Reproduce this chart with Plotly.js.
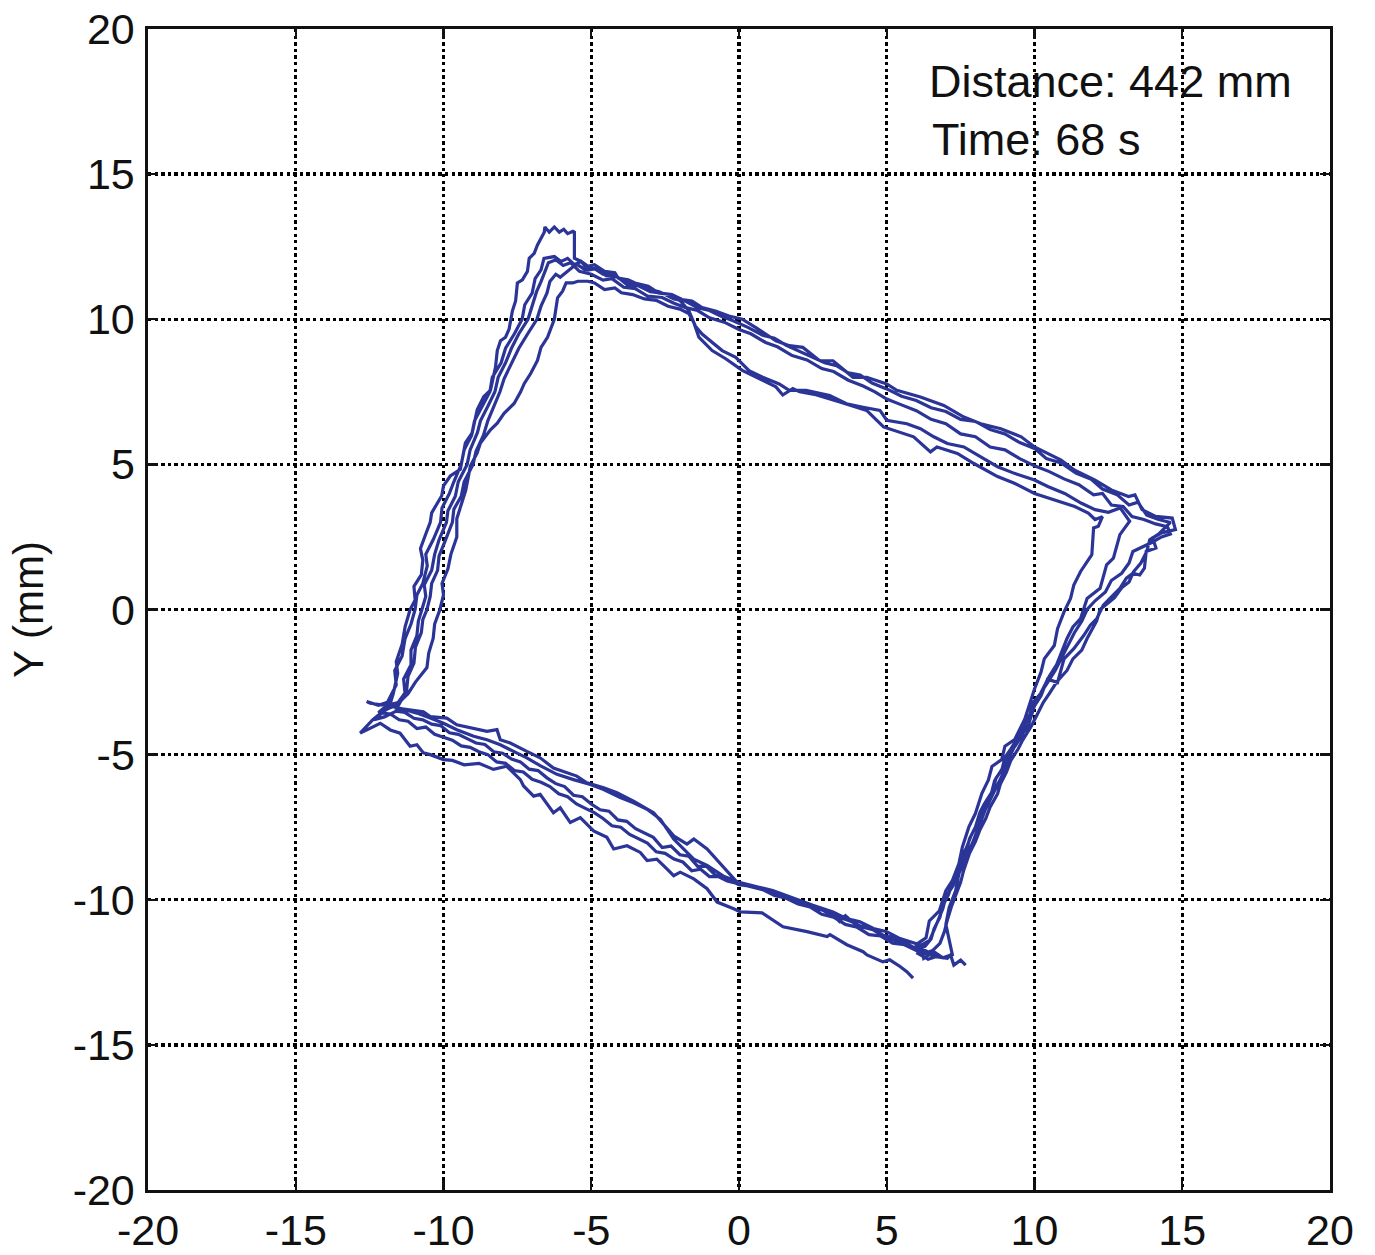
<!DOCTYPE html>
<html>
<head>
<meta charset="utf-8">
<script src="https://cdn.plot.ly/plotly-3.0.1.min.js"></script>
<style>html,body{margin:0;padding:0;background:#fff;}#chart{width:1375px;height:1255px;}</style>
</head>
<body>
<div id="chart"></div>
<script>
// Trajectory, one array of [x, y] (mm) per lap around the square
const loop1 = [
[5.89,-12.7],[5.68,-12.48],[5.45,-12.3],[5.1,-12.07],[4.87,-12.14],[4.33,-11.9],[4.2,-11.79],[3.65,-11.55],[3.08,-11.2],[2.98,-11.27],[2.3,-11.1],[1.49,-10.93],[0.78,-10.45],[0.05,-10.42],[-0.18,-10.31],[-0.74,-10.08],[-1.08,-9.62],[-1.53,-9.28],[-1.99,-9.05],[-2.21,-9.17],[-2.44,-8.94],[-2.78,-8.6],[-3.11,-8.65],[-3.34,-8.37],[-3.79,-8.14],[-4.24,-8.25],[-4.47,-7.85],[-4.92,-7.63],[-5.37,-7.17],[-5.71,-7.34],[-6.05,-6.83],[-6.28,-7.0],[-6.73,-6.37],[-6.95,-6.43],[-7.29,-6.08],[-7.4,-5.86],[-7.86,-5.4],[-8.31,-5.51],[-8.8,-5.3],[-9.3,-5.35],[-9.7,-5.2],[-10.0,-5.17],[-10.45,-5.0],[-10.68,-4.94],[-10.9,-4.66],[-11.13,-4.71],[-11.47,-4.26],[-11.8,-4.15],[-12.14,-3.92],
[-12.5,-4.1],[-12.82,-4.26],[-12.4,-3.8],[-12.1,-3.55],[-11.85,-3.4],
[-11.7,-2.9],[-11.55,-2.2],[-11.6,-1.8],[-11.4,-1.2],[-11.3,-0.6],[-11.13,0.0],[-10.96,0.33],[-11.0,0.8],[-10.75,1.2],[-10.7,1.7],[-10.78,2.1],[-10.6,2.6],[-10.45,3.0],[-10.4,3.33],[-10.06,3.92],[-10.0,4.26],[-9.77,4.6],[-9.43,4.83],[-9.26,5.74],[-9.03,6.08],[-8.86,6.88],[-8.64,7.33],[-8.41,7.56],[-8.24,8.35],[-8.18,8.92],[-8.07,9.26],[-7.9,9.38],[-7.78,9.66],[-7.67,10.28],[-7.56,10.63],[-7.5,11.25],[-7.33,11.36],[-7.16,11.65],[-7.1,12.1],[-6.93,12.27],[-6.82,12.56],[-6.59,13.0],[-6.57,13.18],[-6.42,13.0],[-6.25,13.18],[-6.08,13.0],[-5.93,13.1],[-5.8,12.95],[-5.62,13.03],[-5.57,13.0],[-5.57,12.1],
[-5.34,11.99],[-5.11,11.82],[-4.89,11.88],[-4.55,11.65],[-4.2,11.6],[-4.09,11.42],[-3.75,11.36],[-3.52,11.25],[-3.07,11.14],[-2.73,10.91],[-2.27,10.85],[-1.93,10.68],[-1.59,10.63],[-1.25,10.4],[-0.8,10.28],[-0.34,10.11],[0.11,10.0],[0.57,9.71],[1.25,9.26],[1.7,9.09],[2.16,9.03],[2.73,8.57],[3.18,8.57],[3.86,8.0],[4.32,8.0],[5.0,7.77],[5.34,7.55],[6.14,7.32],[6.93,7.03],[7.61,6.63],[8.18,6.4],[8.86,6.23],[9.55,5.95],[10.0,5.6],[10.45,5.38],[10.9,5.15],[11.36,4.8],[12.05,4.46],[12.6,4.12],[13.18,3.89],[13.4,3.95],[13.64,3.44],[14.1,3.21],[14.66,3.15],[14.77,2.75],[14.3,2.64],
[14.0,2.47],[14.11,2.12],[13.78,2.0],[13.72,1.42],[13.56,1.19],[13.33,1.25],[13.11,1.08],[12.89,0.73],[12.67,0.5],[12.33,0.15],[12.11,-0.31],[11.89,-0.54],[11.67,-0.89],[11.33,-1.35],[11.0,-1.7],[10.78,-2.51],[10.44,-2.4],[10.22,-2.97],[10.0,-3.32],[9.78,-4.02],[9.44,-4.48],[9.22,-4.94],[9.0,-5.52],[8.78,-5.98],[8.56,-6.45],[8.33,-6.91],[8.11,-7.49],[7.89,-8.07],[7.67,-8.53],[7.44,-9.11],[7.33,-9.69],[7.11,-10.27],[7.0,-10.85],[7.11,-11.42],[7.22,-11.89],[6.9,-12.0],[6.59,-11.79],[6.25,-12.02]
];
const loop2 = [
[6.14,-11.56],[5.45,-11.34],[5.0,-11.1],[4.55,-10.99],[4.09,-10.76],[3.64,-10.65],[3.18,-10.42],[2.5,-10.19],[2.05,-10.02],[1.59,-9.85],[1.14,-9.68],[0.68,-9.57],[0.0,-9.4],[-0.5,-9.2],[-1.08,-8.82],[-1.53,-8.6],[-2.21,-7.91],[-2.66,-7.23],[-3.11,-6.88],[-3.57,-6.66],[-4.02,-6.48],[-4.58,-6.2],[-5.03,-6.03],[-5.6,-5.86],[-6.16,-5.68],[-6.73,-5.38],[-7.18,-5.11],[-7.63,-4.89],[-8.08,-4.66],[-8.53,-4.49],[-8.98,-4.37],[-9.55,-4.14],[-10.0,-3.92],[-10.45,-3.74],[-10.9,-3.57],[-11.47,-3.4],[-12.03,-3.29],[-12.48,-3.23],[-12.6,-3.17],[-12.2,-3.3],[-11.9,-3.2],
[-11.6,-2.6],[-11.65,-2.1],[-11.4,-1.6],[-11.3,-1.0],[-11.1,-0.5],[-10.96,0.0],[-10.9,0.5],[-10.7,0.9],[-10.55,1.5],[-10.6,1.9],[-10.35,2.4],[-10.1,3.0],[-10.05,3.5],[-9.8,4.0],[-9.65,4.4],[-9.4,5.0],[-9.3,5.5],[-9.05,6.0],[-8.95,6.5],[-8.7,7.0],[-8.43,7.5],[-8.35,8.0],[-8.05,8.5],[-7.9,9.0],[-7.6,9.5],[-7.34,10.0],[-7.25,10.5],[-7.0,10.9],[-6.9,11.4],[-6.7,11.7],[-6.6,12.1],[-6.25,12.16],[-6.02,11.99],[-5.8,12.1],[-5.57,11.88],[-5.34,11.99],
[-5.1,11.7],[-4.8,11.75],[-4.5,11.5],[-4.1,11.45],[-3.8,11.2],[-3.4,11.15],[-3.0,10.95],[-2.6,10.9],[-2.2,10.7],[-1.8,10.62],[-1.4,10.4],[-1.0,10.3],[-0.6,10.1],[-0.2,9.95],[0.3,9.72],[0.8,9.45],[1.2,9.35],[1.6,9.1],[2.0,8.92],[2.5,8.7],[2.9,8.5],[3.3,8.4],[3.7,8.15],[4.1,8.08],[4.5,7.8],[5.0,7.6],[5.5,7.35],[6.0,7.2],[6.5,6.95],[7.0,6.82],[7.5,6.55],[8.0,6.48],[8.5,6.2],[9.0,6.05],[9.5,5.75],[10.0,5.55],[10.4,5.2],[10.9,5.05],[11.4,4.7],[11.9,4.5],[12.3,4.15],[12.8,3.95],[13.2,3.6],[13.5,3.7],[13.8,3.25],[14.2,3.1],[14.6,3.0],[14.4,2.8],
[14.2,2.6],[13.9,2.4],[13.8,2.0],[13.6,1.6],[13.35,1.3],[13.2,0.95],[12.95,0.75],[12.7,0.4],[12.45,0.2],[12.22,0.0],[12.1,-0.4],[11.78,-1.0],[11.6,-1.4],[11.3,-1.7],[11.1,-2.1],[10.75,-2.5],[10.5,-2.9],[10.3,-3.2],[10.1,-3.6],[9.9,-4.0],[9.6,-4.5],[9.45,-4.8],[9.2,-5.2],[9.05,-5.6],[8.85,-6.0],[8.75,-6.35],[8.5,-6.8],[8.35,-7.2],[8.15,-7.6],[8.0,-8.0],[7.8,-8.4],[7.6,-9.0],[7.5,-9.4],[7.35,-9.8],[7.2,-10.2],[7.05,-10.7],[6.95,-11.1],[6.8,-11.5],[6.55,-11.75],[6.3,-11.85],[6.0,-11.7]
];
const loop3 = [
[5.6,-11.45],[5.2,-11.3],[4.8,-11.2],[4.4,-10.95],[4.0,-10.9],[3.6,-10.55],[3.4,-10.75],[3.2,-10.55],[2.8,-10.35],[2.4,-10.25],[2.0,-10.05],[1.6,-9.95],[1.2,-9.75],[0.8,-9.65],[0.4,-9.5],[-0.07,-9.39],[-1.08,-8.25],[-1.53,-7.91],[-1.76,-8.08],[-2.21,-7.8],[-2.89,-7.0],[-3.57,-6.6],[-4.13,-6.31],[-4.58,-6.14],[-5.15,-5.97],[-5.49,-5.74],[-6.28,-5.46],[-6.73,-5.11],[-7.18,-4.89],[-7.74,-4.6],[-8.08,-4.49],[-8.19,-4.14],[-8.53,-4.2],[-8.98,-4.09],[-9.55,-3.97],[-9.89,-3.74],[-10.45,-3.69],[-10.68,-3.52],[-11.13,-3.46],[-11.58,-3.4],
[-11.3,-2.9],[-11.35,-2.4],[-11.1,-1.9],[-11.1,-1.4],[-10.9,-0.9],[-10.85,-0.4],[-10.73,0.0],[-10.6,0.45],[-10.65,0.85],[-10.4,1.35],[-10.3,1.9],[-10.15,2.4],[-9.9,3.0],[-9.85,3.4],[-9.6,3.9],[-9.5,4.4],[-9.2,5.0],[-9.1,5.5],[-8.85,6.1],[-8.75,6.5],[-8.5,7.0],[-8.26,7.5],[-8.15,8.0],[-7.9,8.5],[-7.7,9.0],[-7.45,9.5],[-7.14,10.0],[-7.0,10.5],[-6.85,10.95],[-6.7,11.3],[-6.55,11.7],[-6.45,11.95],[-6.2,12.05],[-5.95,11.85],[-5.7,11.95],
[-5.4,11.65],[-5.0,11.55],[-4.6,11.35],[-4.3,11.4],[-3.9,11.1],[-3.5,11.05],[-3.1,10.8],[-2.6,10.75],[-2.2,10.55],[-1.8,10.4],[-1.4,10.3],[-1.0,10.05],[-0.5,9.9],[0.0,9.65],[0.4,9.5],[0.9,9.2],[1.3,9.05],[1.8,8.75],[2.3,8.6],[2.8,8.3],[3.2,8.2],[3.7,7.9],[4.2,7.7],[4.6,7.5],[5.0,7.25],[5.5,7.05],[6.0,6.85],[6.5,6.55],[7.0,6.4],[7.5,6.05],[8.0,5.95],[8.5,5.6],[9.0,5.5],[9.5,5.2],[10.0,4.95],[10.5,4.75],[11.0,4.5],[11.5,4.3],[12.0,3.95],[12.3,4.0],[12.6,3.6],[13.0,3.55],[13.3,3.2],[13.7,3.1],[14.1,2.95],[14.5,2.85],[14.6,2.6],
[14.3,2.5],[13.95,2.3],[13.33,2.0],[13.2,1.6],[12.95,1.25],[12.6,1.0],[12.4,0.6],[12.05,0.3],[11.78,0.0],[11.6,-0.4],[11.35,-0.8],[11.15,-1.2],[10.95,-1.6],[10.7,-2.1],[10.45,-2.5],[10.2,-2.9],[9.95,-3.2],[9.85,-3.6],[9.6,-4.0],[9.45,-4.4],[9.2,-4.8],[9.0,-5.1],[8.9,-5.5],[8.65,-5.9],[8.55,-6.3],[8.3,-6.7],[8.15,-7.0],[8.0,-7.5],[7.8,-7.9],[7.7,-8.3],[7.5,-8.7],[7.35,-9.1],[7.25,-9.5],[7.0,-9.9],[6.9,-10.3],[6.75,-10.7],[6.6,-11.05],[6.45,-11.4],[6.2,-11.55],[6.05,-11.85],[6.4,-12.05],[6.7,-11.95]
];
const loop4 = [
[6.2,-11.7],[5.8,-11.6],[5.4,-11.45],[5.0,-11.3],[4.6,-11.05],[4.2,-10.95],[3.8,-10.75],[3.4,-10.6],[3.0,-10.4],[2.6,-10.3],[2.2,-10.1],[1.8,-9.95],[1.4,-9.85],[1.0,-9.7],[0.5,-9.55],[0.0,-9.48],[-0.4,-9.3],[-0.8,-9.15],[-1.1,-8.85],[-1.4,-8.85],[-1.7,-8.5],[-2.0,-8.45],[-2.3,-8.15],[-2.6,-8.2],[-2.9,-7.85],[-3.2,-7.7],[-3.5,-7.55],[-3.8,-7.3],[-4.1,-7.25],[-4.4,-6.95],[-4.7,-6.9],[-5.0,-6.7],[-5.3,-6.45],[-5.6,-6.4],[-5.9,-6.1],[-6.2,-6.0],[-6.5,-5.8],[-6.8,-5.55],[-7.1,-5.5],[-7.4,-5.25],[-7.7,-5.15],[-8.0,-4.95],[-8.3,-4.9],[-8.6,-4.65],[-8.9,-4.6],[-9.2,-4.45],[-9.5,-4.3],[-9.8,-4.25],[-10.1,-4.0],[-10.4,-3.95],[-10.7,-3.8],[-11.0,-3.75],[-11.3,-3.55],[-11.6,-3.5],[-12.0,-3.7],[-12.35,-3.8],[-11.95,-3.45],[-11.6,-3.3],
[-11.25,-2.8],[-11.2,-2.3],[-11.0,-1.85],[-10.95,-1.3],[-10.75,-0.8],[-10.7,-0.35],[-10.56,0.0],[-10.45,0.45],[-10.4,0.9],[-10.2,1.35],[-10.15,1.85],[-9.95,2.35],[-9.7,3.0],[-9.65,3.45],[-9.4,3.9],[-9.3,4.4],[-9.0,5.0],[-8.9,5.45],[-8.65,6.0],[-8.5,6.5],[-8.3,7.0],[-8.09,7.5],[-7.95,7.95],[-7.7,8.5],[-7.45,9.0],[-7.15,9.5],[-6.84,10.0],[-6.7,10.45],[-6.5,10.9],[-6.4,11.3],[-6.2,11.55],[-6.05,11.45],[-5.8,11.65],
[-5.5,11.9],[-5.2,11.7],[-4.9,11.75],[-4.6,11.55],[-4.2,11.5],[-3.9,11.3],[-3.5,11.2],[-3.1,11.05],[-2.7,10.95],[-2.3,10.75],[-2.0,10.65],[-1.7,10.3],[-1.59,10.06],[-1.48,9.77],[-1.25,9.49],[-0.91,9.2],[-0.57,8.92],[-0.11,8.69],[0.34,8.23],[0.8,8.0],[1.36,7.77],[1.7,7.55],[2.27,7.55],[3.07,7.37],[3.64,7.09],[4.2,6.97],[4.77,6.86],[5.0,6.52],[5.68,6.4],[6.14,6.23],[6.59,5.95],[7.05,5.72],[7.61,5.6],[8.18,5.26],[8.75,4.92],[9.32,4.69],[10.0,4.46],[10.45,4.24],[11.02,4.0],[11.59,3.66],[12.05,3.44],[12.5,3.35],[12.9,3.5],[13.22,3.04],
[12.89,2.58],[12.67,1.77],[12.44,1.54],[12.22,0.73],[11.78,0.38],[11.56,-0.31],[11.3,-0.6],[11.1,-1.0],[10.9,-1.5],[10.75,-1.9],[10.5,-2.3],[10.3,-2.7],[10.1,-3.1],[9.9,-3.5],[9.7,-3.9],[9.6,-4.3],[9.35,-4.7],[9.1,-5.0],[9.0,-5.4],[8.7,-5.8],[8.6,-6.2],[8.4,-6.6],[8.2,-7.0],[8.05,-7.4],[7.85,-7.8],[7.7,-8.2],[7.5,-8.6],[7.4,-9.0],[7.2,-9.4],[7.1,-9.8],[6.9,-10.2],[6.8,-10.6],[6.6,-11.0],[6.5,-11.35],[6.3,-11.6],[6.0,-11.75]
];
const loop5 = [
[5.6,-11.55],[5.2,-11.5],[4.8,-11.25],[4.4,-11.2],[4.0,-10.95],[3.6,-10.85],[3.2,-10.6],[2.8,-10.5],[2.4,-10.25],[2.0,-10.15],[1.6,-9.95],[1.2,-9.85],[0.8,-9.65],[0.4,-9.55],[0.0,-9.45],[-0.4,-9.35],[-0.7,-9.2],[-1.0,-9.2],[-1.3,-8.95],[-1.6,-9.0],[-1.9,-8.7],[-2.2,-8.6],[-2.5,-8.4],[-2.8,-8.35],[-3.1,-8.05],[-3.4,-7.9],[-3.7,-7.75],[-4.0,-7.5],[-4.3,-7.45],[-4.6,-7.2],[-4.9,-7.0],[-5.2,-6.85],[-5.5,-6.7],[-5.8,-6.45],[-6.1,-6.35],[-6.4,-6.1],[-6.7,-5.95],[-7.0,-5.85],[-7.3,-5.6],[-7.6,-5.55],[-7.9,-5.3],[-8.2,-5.25],[-8.5,-5.0],[-8.8,-4.9],[-9.1,-4.75],[-9.4,-4.7],[-9.7,-4.5],[-10.0,-4.4],[-10.3,-4.3],[-10.6,-4.05],[-10.9,-4.1],[-11.2,-3.85],[-11.5,-3.8],[-11.8,-3.6],[-12.2,-3.55],[-11.9,-3.3],[-11.5,-3.2],
[-11.2,-2.9],[-10.95,-2.5],[-10.56,-2.0],[-10.5,-1.5],[-10.35,-1.0],[-10.3,-0.5],[-10.12,0.0],[-10.0,0.5],[-10.05,0.9],[-9.85,1.4],[-9.75,1.9],[-9.55,2.5],[-9.55,3.13],[-9.4,3.6],[-9.25,4.1],[-9.09,4.94],[-8.86,5.4],[-8.75,5.74],[-8.41,6.19],[-8.18,6.42],[-7.95,6.76],[-7.61,7.1],[-7.39,7.5],[-7.27,7.78],[-7.05,8.13],[-6.82,8.58],[-6.7,9.03],[-6.48,9.38],[-6.25,10.0],[-6.14,10.74],[-5.97,10.97],[-5.85,11.25],[-5.63,11.25],[-5.45,11.31],[-5.11,11.31],[-4.89,11.25],
[-4.55,11.02],[-4.2,11.08],[-3.98,10.91],[-3.6,10.85],[-3.2,10.7],[-2.8,10.65],[-2.4,10.45],[-2.0,10.35],[-1.7,10.2],[-1.53,9.89],[-1.36,9.38],[-0.91,8.92],[-0.45,8.64],[0.11,8.24],[0.57,8.01],[1.25,7.67],[1.48,7.39],[1.82,7.61],[2.05,7.5],[2.6,7.4],[3.41,7.15],[4.32,6.86],[4.89,6.29],[5.91,5.95],[6.48,5.43],[6.7,5.6],[7.39,5.38],[7.95,5.03],[8.75,4.58],[9.32,4.35],[10.0,4.0],[10.68,3.78],[11.36,3.55],[11.82,3.32],[12.05,3.1],[12.3,3.2],[12.16,2.87],[12.0,2.81],
[11.94,1.89],[11.56,1.31],[11.33,0.84],[11.22,0.38],[11.0,-0.08],[10.78,-0.66],[10.67,-1.24],[10.33,-1.7],[10.22,-2.16],[10.0,-2.74],[9.89,-3.09],[9.67,-3.78],[9.33,-4.48],[9.0,-4.71],[8.89,-5.17],[8.56,-5.41],[8.44,-5.87],[8.22,-6.33],[8.0,-7.03],[7.78,-7.49],[7.56,-8.18],[7.44,-8.76],[7.22,-9.34],[7.0,-9.69],[6.78,-10.38],[6.44,-10.73],[6.33,-11.31],[6.0,-11.54],[6.2,-11.8],[6.6,-11.95],[7.05,-12.02],[7.16,-11.9],[7.27,-12.25],[7.5,-12.08],[7.67,-12.25]
];

const tickVals = [-20, -15, -10, -5, 0, 5, 10, 15, 20];
const tickText = ['-20', '-15', '-10', '-5', '0', '5', '10', '15', '20'];
const infoLines = ['Distance: 442 mm', 'Time: 68 s'];
const yTitle = 'Y (mm)';

const path = [].concat(loop1, loop2, loop3, loop4, loop5);
const FONT = 'Liberation Sans, Arial, Helvetica, sans-serif';

const trace = {
  type: 'scatter',
  mode: 'lines',
  x: path.map(p => p[0]),
  y: path.map(p => p[1]),
  line: {color: '#2B3497', width: 3.2},
  hoverinfo: 'skip'
};

const axisCommon = {
  range: [-20, 20],
  tickmode: 'array',
  tickvals: tickVals,
  ticktext: tickText,
  showgrid: true,
  gridcolor: '#000000',
  griddash: 'dot',
  gridwidth: 3.3,
  zeroline: false,
  showline: true,
  linecolor: '#111111',
  linewidth: 2.6,
  mirror: 'ticks',
  ticks: 'inside',
  ticklen: 10,
  tickwidth: 2.4,
  tickcolor: '#111111',
  tickfont: {family: FONT, size: 43, color: '#111111'},
  fixedrange: true
};

const layout = {
  width: 1375,
  height: 1255,
  margin: {l: 148, r: 45, t: 29, b: 65},
  paper_bgcolor: '#ffffff',
  plot_bgcolor: '#ffffff',
  showlegend: false,
  font: {family: FONT, color: '#111111'},
  xaxis: Object.assign({}, axisCommon, {ticklabelstandoff: 1}),
  yaxis: Object.assign({}, axisCommon, {
    ticklabelstandoff: 2,
    title: {text: yTitle, font: {family: FONT, size: 42, color: '#111111'}, standoff: 16}
  }),
  annotations: [
    {xref: 'x', yref: 'y', x: 6.35, y: 18.2, xanchor: 'left', yanchor: 'middle',
     text: infoLines[0], showarrow: false, font: {family: FONT, size: 45, color: '#111111'}},
    {xref: 'x', yref: 'y', x: 6.45, y: 16.2, xanchor: 'left', yanchor: 'middle',
     text: infoLines[1], showarrow: false, font: {family: FONT, size: 45, color: '#111111'}}
  ]
};

Plotly.newPlot('chart', [trace], layout, {staticPlot: true, displayModeBar: false});
</script>
</body>
</html>
